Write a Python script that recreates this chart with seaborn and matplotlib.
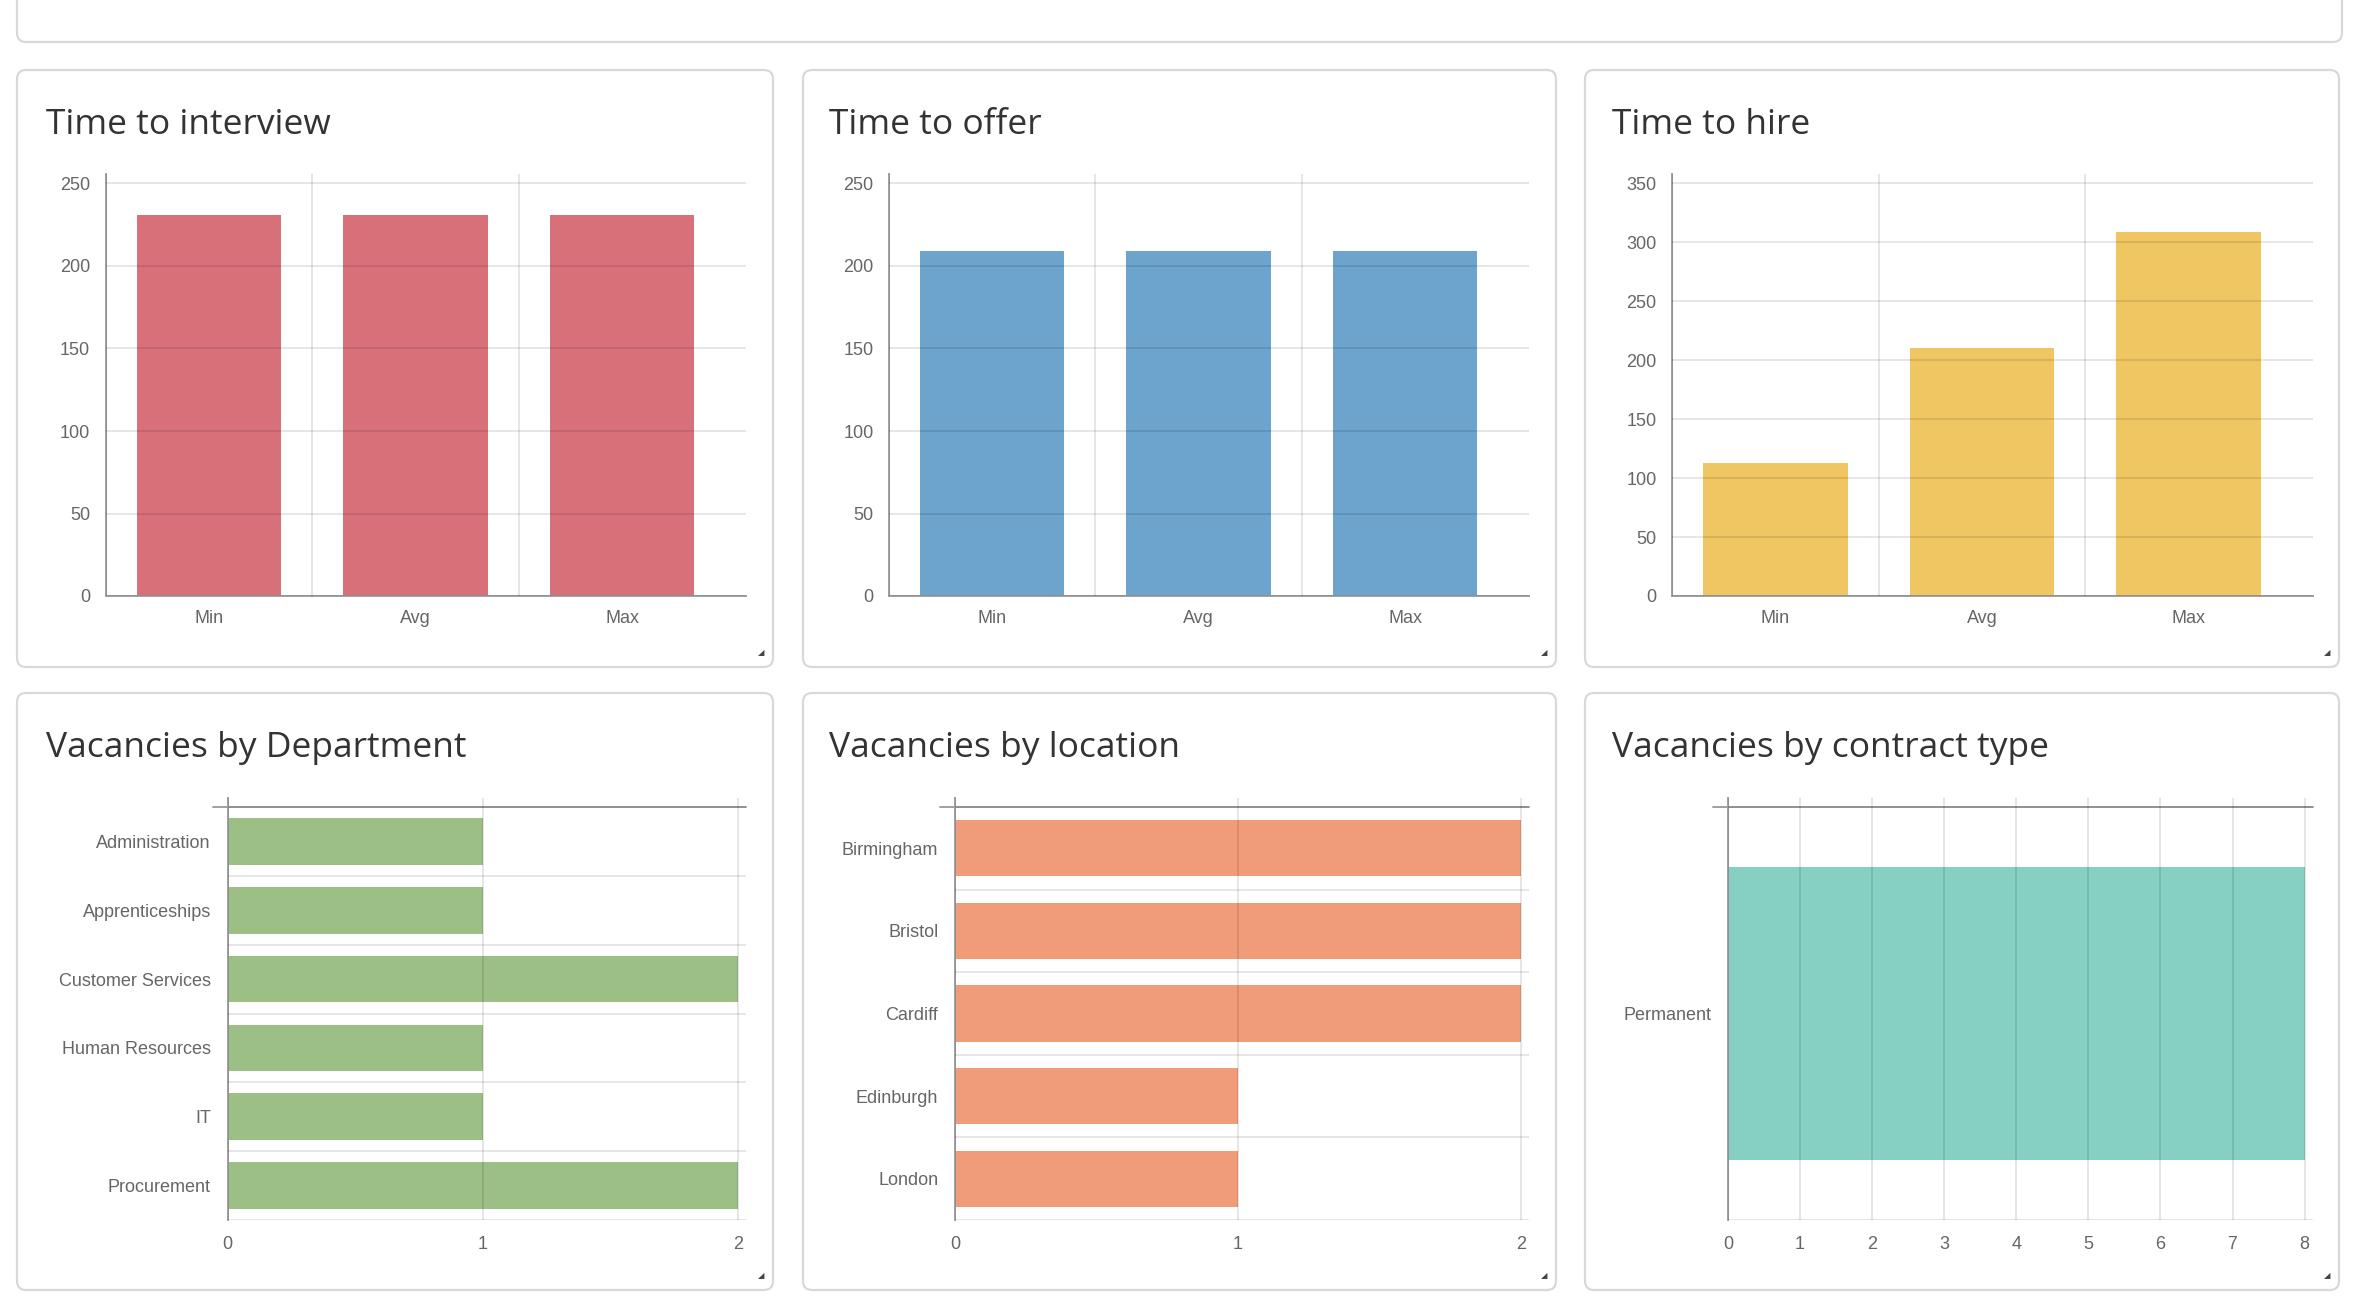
import numpy as np
import pandas as pd
import seaborn as sns
import matplotlib.pyplot as plt
from matplotlib.patches import FancyBboxPatch

# data
stages = ['Min', 'Avg', 'Max']
interview_days = [231, 231, 231]
offer_days = [209, 209, 209]
hire_days = [113, 210, 309]

departments = ['Administration', 'Apprenticeships', 'Customer Services',
               'Human Resources', 'IT', 'Procurement']
dept_counts = [1, 1, 2, 1, 1, 2]

locations = ['Birmingham', 'Bristol', 'Cardiff', 'Edinburgh', 'London']
location_counts = [2, 2, 2, 1, 1]

contract_types = ['Permanent']
contract_counts = [8]

W, H = 2358, 1314
GRID_ALPHA = 0.1
TICK_GRAY = '#e6e6e6'
AXIS = '#a0a0a0'
LW = 1.4
TICK_COLOR = '#666666'

sns.set_style('white')
plt.rcParams['font.family'] = ['Liberation Sans', 'DejaVu Sans']

fig = plt.figure(figsize=(W / 100, H / 100), dpi=100)
fig.patch.set_facecolor('white')

# background layer in pixel coords for the cards and titles
bg = fig.add_axes([0, 0, 1, 1])
bg.set_xlim(0, W)
bg.set_ylim(H, 0)
bg.axis('off')


def card(x0, y0, x1, y1):
    box = FancyBboxPatch((x0, y0), x1 - x0, y1 - y0,
                         boxstyle='round,pad=0,rounding_size=9',
                         facecolor='white', edgecolor='#d9d9d9', lw=1.6)
    bg.add_patch(box)


def px_axes(l, t, r, b):
    return fig.add_axes([l / W, 1 - b / H, (r - l) / W, (b - t) / H])


# top strip card (mostly off screen)
card(17, -40, 2342, 42)

card_x = [(17, 773), (803, 1556), (1585, 2339)]
rows = [(70, 667), (693, 1290)]
for (y0, y1) in rows:
    for (x0, x1) in card_x:
        card(x0, y0, x1, y1)
        bg.text(x1 - 12, y1 - 14, '\u25e2', fontsize=6, color='#444444',
                ha='center', va='center', family=['DejaVu Sans'])

titles = [['Time to interview', 'Time to offer', 'Time to hire'],
          ['Vacancies by Department', 'Vacancies by location', 'Vacancies by contract type']]
title_x = [46, 829, 1612]
title_base = [134, 757]
for r in range(2):
    for c in range(3):
        bg.text(title_x[c], title_base[r], titles[r][c], fontsize=25.5,
                color='#333333', va='baseline', family=['Open Sans', 'DejaVu Sans'])


def time_chart(ax, values, color, ymax):
    sns.barplot(x=stages, y=values, ax=ax, color=color, saturation=1,
                width=0.7, errorbar=None, linewidth=0)
    # grid area runs past the last category a bit, like the original
    ax.set_xlim(-0.5, 2.6)
    # axis line runs a little above the top tick
    ax.set_ylim(0, ymax * (596 - 174.4) / (596 - 183.5))
    ax.set_yticks(range(0, ymax + 1, 50))
    ax.set_xticks([-0.5, 0.5, 1.5], minor=True)
    ax.grid(False)
    ax.grid(axis='y', which='major', color='black', alpha=GRID_ALPHA, lw=LW)
    ax.grid(axis='x', which='minor', color='black', alpha=GRID_ALPHA, lw=LW)
    ax.set_axisbelow(False)
    ax.spines[['top', 'right']].set_visible(False)
    for s in ['left', 'bottom']:
        ax.spines[s].set_color(AXIS)
        ax.spines[s].set_linewidth(LW)
    ax.tick_params(axis='y', which='major', length=8.6, width=LW, color=TICK_GRAY,
                   labelsize=13, labelcolor=TICK_COLOR, pad=2.5)
    ax.tick_params(axis='x', which='major', length=0, labelsize=13,
                   labelcolor=TICK_COLOR, pad=10)
    ax.tick_params(axis='x', which='minor', length=9.7, width=LW, color=TICK_GRAY)
    ax.set_xlabel('')
    ax.set_ylabel('')
    ax.patch.set_alpha(0)


def vacancy_chart(ax, left, labels, values, color, xmax, x_right, x_last, bar_w=0.68):
    n = len(labels)
    sns.barplot(x=values, y=labels, orient='h', ax=ax, color=color, saturation=1,
                width=bar_w, errorbar=None, linewidth=0)
    ax.set_xlim(0, xmax * (x_right - left) / (x_last - left))
    pad = n * (807 - 798) / (1220 - 807)
    ax.set_ylim(n - 0.5, -0.5 - pad)
    ax.set_xticks(range(0, xmax + 1))
    ax.set_yticks(np.arange(-0.5, n, 1.0), minor=True)
    ax.grid(False)
    ax.grid(axis='x', which='major', color='black', alpha=GRID_ALPHA, lw=LW)
    ax.grid(axis='y', which='minor', color='black', alpha=GRID_ALPHA, lw=LW)
    ax.set_axisbelow(False)
    ax.spines[['top', 'right', 'bottom']].set_visible(False)
    ax.spines['left'].set_color(AXIS)
    ax.spines['left'].set_linewidth(LW)
    width_px = x_right - left
    ax.axhline(-0.5, xmin=-15 / width_px, xmax=1, color=AXIS, lw=LW, clip_on=False)
    ax.tick_params(axis='x', which='major', length=9.7, width=LW, color=TICK_GRAY,
                   labelsize=13, labelcolor=TICK_COLOR, pad=2)
    ax.tick_params(axis='y', which='major', length=0, labelsize=13,
                   labelcolor=TICK_COLOR, pad=12)
    ax.tick_params(axis='y', which='minor', length=11, width=LW, color=TICK_GRAY)
    ax.set_xlabel('')
    ax.set_ylabel('')
    ax.patch.set_alpha(0)


ax1 = px_axes(105.6, 174.4, 746, 596)
ax2 = px_axes(889, 174.4, 1529, 596)
ax3 = px_axes(1672, 174.4, 2312.5, 596)
time_chart(ax1, interview_days, '#d8707a', 250)
time_chart(ax2, offer_days, '#6ca4cd', 250)
time_chart(ax3, hire_days, '#f0c662', 350)

ax4 = px_axes(227.6, 798, 746, 1220)
ax5 = px_axes(955, 798, 1529, 1220)
ax6 = px_axes(1728, 798, 2312.5, 1220)
vacancy_chart(ax4, 227.6, departments, dept_counts, '#9bbf85', 2, 746, 738)
vacancy_chart(ax5, 955, locations, location_counts, '#f09c79', 2, 1529, 1521)
vacancy_chart(ax6, 1728, contract_types, contract_counts, '#86cfc3', 8, 2312.5, 2304.6,
              bar_w=0.71)

fig.savefig('out.png', dpi=100)
